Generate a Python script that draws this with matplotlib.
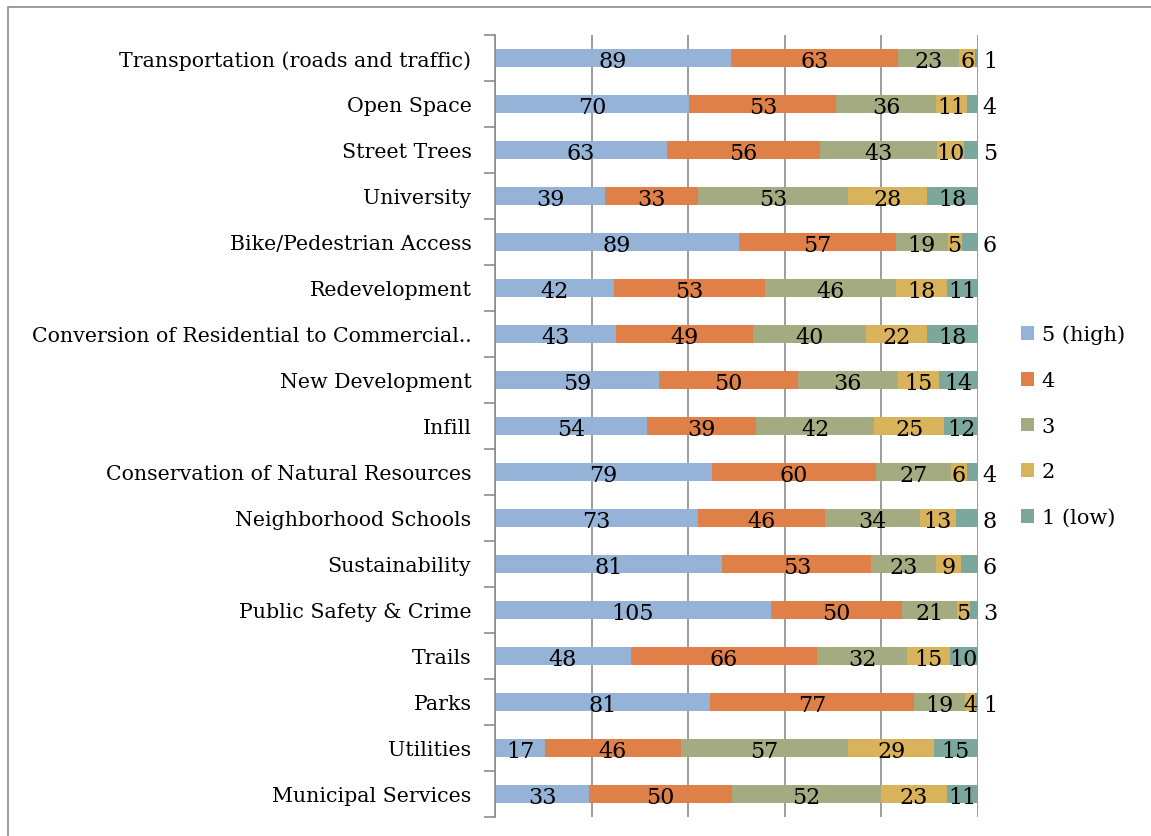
import numpy as np
import matplotlib
matplotlib.use("Agg")
import matplotlib.pyplot as plt
from matplotlib.patches import Rectangle

# Survey ratings by topic, counts per rating level
categories = [
    "Transportation (roads and traffic)",
    "Open Space",
    "Street Trees",
    "University",
    "Bike/Pedestrian Access",
    "Redevelopment",
    "Conversion of Residential to Commercial..",
    "New Development",
    "Infill",
    "Conservation of Natural Resources",
    "Neighborhood Schools",
    "Sustainability",
    "Public Safety & Crime",
    "Trails",
    "Parks",
    "Utilities",
    "Municipal Services",
]
rating_5 = [89, 70, 63, 39, 89, 42, 43, 59, 54, 79, 73, 81, 105, 48, 81, 17, 33]
rating_4 = [63, 53, 56, 33, 57, 53, 49, 50, 39, 60, 46, 53, 50, 66, 77, 46, 50]
rating_3 = [23, 36, 43, 53, 19, 46, 40, 36, 42, 27, 34, 23, 21, 32, 19, 57, 52]
rating_2 = [6, 11, 10, 28, 5, 18, 22, 15, 25, 6, 13, 9, 5, 15, 4, 29, 23]
rating_1 = [1, 4, 5, 18, 6, 11, 18, 14, 12, 4, 8, 6, 3, 10, 1, 15, 11]

series_names = ["5 (high)", "4", "3", "2", "1 (low)"]
colors = ["#95B3D7", "#DF8049", "#A5AB81", "#D9B25C", "#7BA79D"]

counts = np.array([rating_5, rating_4, rating_3, rating_2, rating_1], dtype=float)
shares = counts / counts.sum(axis=0) * 100

plt.rcParams["font.family"] = ["DejaVu Serif"]

fig = plt.figure(figsize=(11.51, 8.37), dpi=100)
ax = fig.add_axes([0.4301, 0.0227, 0.4196, 0.9343])

# outer chart frame
fig.patches.append(Rectangle((8 / 1151, -0.05), 1.2, 1 - 8 / 837 + 0.05,
                             transform=fig.transFigure, fill=False,
                             edgecolor="#8c8c8c", linewidth=1.2))

y = np.arange(len(categories))
left = np.zeros(len(categories))
for i, (name, color) in enumerate(zip(series_names, colors)):
    ax.barh(y, shares[i], left=left, height=0.4, color=color, label=name,
            zorder=2)
    for j in range(len(categories)):
        val = int(counts[i, j])
        cx = left[j] + shares[i, j] / 2
        if i == len(series_names) - 1 and val < 9:
            ax.text(101.0, y[j] + 0.06, str(val), ha="left", va="center",
                    fontsize=16, zorder=3, clip_on=False)
        else:
            ax.text(cx, y[j] + 0.06, str(val), ha="center", va="center",
                    fontsize=16, zorder=3, clip_on=False)
    left += shares[i]

ax.set_xlim(0, 100)
ax.set_ylim(len(categories) - 0.5, -0.5)
ax.set_xticks([0, 20, 40, 60, 80, 100])
ax.set_xticklabels([])
ax.tick_params(axis="x", length=0)
ax.grid(axis="x", color="#8c8c8c", linewidth=1.2, zorder=0)

ax.set_yticks(y)
ax.set_yticklabels(categories, fontsize=14.8)
ax.tick_params(axis="y", which="major", length=0, pad=17)
ax.set_yticks(np.arange(-0.5, len(categories)), minor=True)
ax.tick_params(axis="y", which="minor", length=8, color="#8c8c8c", width=1.2)

for side in ["top", "right", "bottom"]:
    ax.spines[side].set_visible(False)
ax.spines["left"].set_color("#8c8c8c")
ax.spines["left"].set_linewidth(1.2)

ax.legend(loc="center left", bbox_to_anchor=(1.05, 0.5), frameon=False,
          fontsize=15, handlelength=0.65, handleheight=0.65, handletextpad=0.35,
          labelspacing=1.28)

fig.savefig("out.png", dpi=100)
